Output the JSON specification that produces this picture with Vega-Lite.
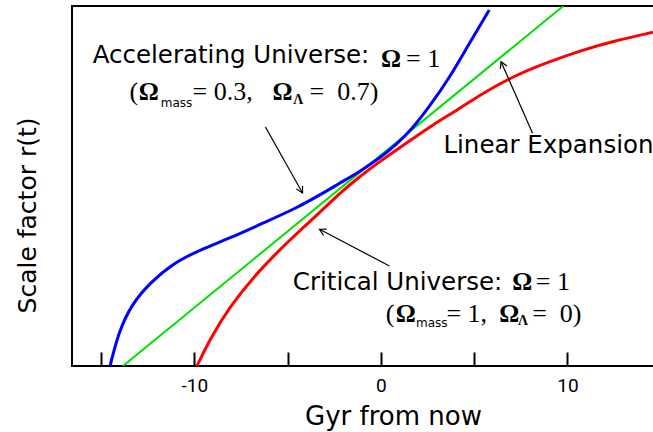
{
  "$schema": "https://vega.github.io/schema/vega-lite/v6.json",
  "width": 582,
  "height": 360,
  "autosize": "none",
  "padding": {"left": 72, "top": 6, "right": 0, "bottom": 66},
  "background": "white",
  "config": {
    "view": {"stroke": "black", "strokeWidth": 2},
    "axis": {"titleFont": "DejaVu Sans", "titleFontWeight": "normal", "labelColor": "black", "titleColor": "black"}
  },
  "datasets": {
    "curves": [
      {"series": "Linear", "t": -13.83, "r": 0},
      {"series": "Linear", "t": 9.78, "r": 1.714},
      {"series": "Accelerating", "t": -14.52, "r": 0},
      {"series": "Accelerating", "t": -14.05, "r": 0.165},
      {"series": "Accelerating", "t": -13.35, "r": 0.295},
      {"series": "Accelerating", "t": -12.40, "r": 0.394},
      {"series": "Accelerating", "t": -11.15, "r": 0.489},
      {"series": "Accelerating", "t": -9.72, "r": 0.552},
      {"series": "Accelerating", "t": -8.11, "r": 0.608},
      {"series": "Accelerating", "t": -6.33, "r": 0.680},
      {"series": "Accelerating", "t": -4.54, "r": 0.751},
      {"series": "Accelerating", "t": -3.12, "r": 0.822},
      {"series": "Accelerating", "t": -2.22, "r": 0.870},
      {"series": "Accelerating", "t": -1.15, "r": 0.925},
      {"series": "Accelerating", "t": -0.08, "r": 0.989},
      {"series": "Accelerating", "t": 0.81, "r": 1.052},
      {"series": "Accelerating", "t": 1.70, "r": 1.132},
      {"series": "Accelerating", "t": 2.60, "r": 1.235},
      {"series": "Accelerating", "t": 3.67, "r": 1.371},
      {"series": "Accelerating", "t": 4.74, "r": 1.537},
      {"series": "Accelerating", "t": 5.81, "r": 1.695},
      {"series": "Critical", "t": -9.86, "r": 0},
      {"series": "Critical", "t": -9.19, "r": 0.124},
      {"series": "Critical", "t": -8.11, "r": 0.282},
      {"series": "Critical", "t": -6.68, "r": 0.441},
      {"series": "Critical", "t": -4.90, "r": 0.600},
      {"series": "Critical", "t": -3.12, "r": 0.743},
      {"series": "Critical", "t": -2.22, "r": 0.822},
      {"series": "Critical", "t": -1.15, "r": 0.901},
      {"series": "Critical", "t": -0.08, "r": 0.973},
      {"series": "Critical", "t": 1.35, "r": 1.060},
      {"series": "Critical", "t": 2.77, "r": 1.148},
      {"series": "Critical", "t": 4.10, "r": 1.219},
      {"series": "Critical", "t": 5.45, "r": 1.299},
      {"series": "Critical", "t": 7.24, "r": 1.386},
      {"series": "Critical", "t": 9.03, "r": 1.449},
      {"series": "Critical", "t": 10.81, "r": 1.505},
      {"series": "Critical", "t": 12.60, "r": 1.549},
      {"series": "Critical", "t": 14.58, "r": 1.589}
    ],
    "arrows": [
      {"name": "acc", "t": -6.19, "r": 1.138, "t2": -4.20, "r2": 0.824},
      {"name": "crit", "t": 0.46, "r": 0.476, "t2": -3.29, "r2": 0.651},
      {"name": "lin", "t": 8.13, "r": 1.108, "t2": 6.44, "r2": 1.449}
    ],
    "sansText": [
      {"text": "Accelerating Universe:", "t": -15.45, "r": 1.441},
      {"text": "Critical Universe:", "t": -4.72, "r": 0.362},
      {"text": "Linear Expansion", "t": 3.35, "r": 1.013}
    ],
    "omegaText": [
      {"text": "Ω", "t": 0.01, "r": 1.425},
      {"text": "Ω", "t": -12.98, "r": 1.267},
      {"text": "Ω", "t": -5.81, "r": 1.267},
      {"text": "Ω", "t": 7.04, "r": 0.362},
      {"text": "Ω", "t": 0.80, "r": 0.211},
      {"text": "Ω", "t": 6.35, "r": 0.211}
    ],
    "serifText": [
      {"text": "= 1", "t": 1.35, "r": 1.425},
      {"text": "(", "t": -13.48, "r": 1.267},
      {"text": "= 0.3,", "t": -10.10, "r": 1.267},
      {"text": "=\u00a0\u00a00.7)", "t": -3.83, "r": 1.267},
      {"text": "= 1", "t": 8.30, "r": 0.362},
      {"text": "(", "t": 0.26, "r": 0.211},
      {"text": "= 1,", "t": 3.51, "r": 0.211},
      {"text": "=\u00a0\u00a00)", "t": 8.11, "r": 0.211}
    ],
    "subText": [
      {"text": "mass", "t": -11.80, "r": 1.233},
      {"text": "mass", "t": 1.88, "r": 0.186}
    ],
    "lambdaText": [
      {"text": "Λ", "t": -4.70, "r": 1.248},
      {"text": "Λ", "t": 7.35, "r": 0.195}
    ]
  },
  "layer": [
    {
      "data": {"name": "curves"},
      "transform": [{"filter": "datum.series === 'Linear'"}],
      "mark": {"type": "line", "color": "#00e000", "strokeWidth": 2, "clip": true},
      "encoding": {
        "x": {"field": "t", "type": "quantitative", "scale": {"domain": [-16.56, 14.64], "nice": false, "zero": false},
          "axis": {"values": [-15, -10, -5, 0, 5, 10], "domain": false, "grid": false, "tickSize": -14, "tickWidth": 2, "tickColor": "black",
            "labelExpr": "datum.value % 10 === 0 ? (datum.value < 0 ? '-' : '') + abs(datum.value) : ''",
            "labelFont": "Roboto", "labelFontSize": 19, "labelPadding": 24, "labelBaseline": "top",
            "title": "Gyr from now", "titleFontSize": 26, "titleX": 321, "titleY": 58, "titleBaseline": "alphabetic", "titleAlign": "center", "titleAnchor": null}},
        "y": {"field": "r", "type": "quantitative", "scale": {"domain": [0, 1.714], "nice": false, "zero": false},
          "axis": {"domain": false, "grid": false, "ticks": false, "labels": false,
            "title": "Scale factor r(t)", "titleFontSize": 25, "titleX": -45, "titleY": 209, "titleAngle": 270, "titleAlign": "center", "titleBaseline": "middle", "titleAnchor": null}}
      }
    },
    {
      "data": {"name": "curves"},
      "transform": [{"filter": "datum.series === 'Accelerating'"}],
      "mark": {"type": "line", "color": "#0000ff", "strokeWidth": 3, "interpolate": "basis", "clip": true},
      "encoding": {"x": {"field": "t", "type": "quantitative"}, "y": {"field": "r", "type": "quantitative"}}
    },
    {
      "data": {"name": "curves"},
      "transform": [{"filter": "datum.series === 'Critical'"}],
      "mark": {"type": "line", "color": "#ff0000", "strokeWidth": 3, "interpolate": "basis", "clip": true},
      "encoding": {"x": {"field": "t", "type": "quantitative"}, "y": {"field": "r", "type": "quantitative"}}
    },
    {
      "data": {"name": "arrows"},
      "mark": {"type": "rule", "color": "black", "strokeWidth": 1.2},
      "encoding": {
        "x": {"field": "t", "type": "quantitative"},
        "y": {"field": "r", "type": "quantitative"},
        "x2": {"field": "t2"},
        "y2": {"field": "r2"}
      }
    },
    {
      "data": {"name": "arrows"},
      "transform": [{"filter": "datum.name === 'acc'"}],
      "mark": {"type": "point", "shape": "M-1,1.8L0,0L1,1.8", "filled": false, "stroke": "black", "strokeWidth": 1.2, "size": 50, "angle": 150.7, "opacity": 1},
      "encoding": {"x": {"field": "t2", "type": "quantitative"}, "y": {"field": "r2", "type": "quantitative"}}
    },
    {
      "data": {"name": "arrows"},
      "transform": [{"filter": "datum.name === 'crit'"}],
      "mark": {"type": "point", "shape": "M-1,1.8L0,0L1,1.8", "filled": false, "stroke": "black", "strokeWidth": 1.2, "size": 50, "angle": 297.6, "opacity": 1},
      "encoding": {"x": {"field": "t2", "type": "quantitative"}, "y": {"field": "r2", "type": "quantitative"}}
    },
    {
      "data": {"name": "arrows"},
      "transform": [{"filter": "datum.name === 'lin'"}],
      "mark": {"type": "point", "shape": "M-1,1.8L0,0L1,1.8", "filled": false, "stroke": "black", "strokeWidth": 1.2, "size": 50, "angle": 336.2, "opacity": 1},
      "encoding": {"x": {"field": "t2", "type": "quantitative"}, "y": {"field": "r2", "type": "quantitative"}}
    },
    {
      "data": {"name": "sansText"},
      "mark": {"type": "text", "font": "DejaVu Sans", "fontSize": 24.5, "align": "left", "baseline": "alphabetic", "color": "black"},
      "encoding": {"x": {"field": "t", "type": "quantitative"}, "y": {"field": "r", "type": "quantitative"}, "text": {"field": "text"}}
    },
    {
      "data": {"name": "omegaText"},
      "mark": {"type": "text", "font": "Liberation Serif", "fontSize": 25, "fontWeight": "bold", "align": "left", "baseline": "alphabetic", "color": "black"},
      "encoding": {"x": {"field": "t", "type": "quantitative"}, "y": {"field": "r", "type": "quantitative"}, "text": {"field": "text"}}
    },
    {
      "data": {"name": "serifText"},
      "mark": {"type": "text", "font": "Liberation Serif", "fontSize": 26, "align": "left", "baseline": "alphabetic", "color": "black"},
      "encoding": {"x": {"field": "t", "type": "quantitative"}, "y": {"field": "r", "type": "quantitative"}, "text": {"field": "text"}}
    },
    {
      "data": {"name": "subText"},
      "mark": {"type": "text", "font": "DejaVu Sans", "fontSize": 12, "align": "left", "baseline": "alphabetic", "color": "black"},
      "encoding": {"x": {"field": "t", "type": "quantitative"}, "y": {"field": "r", "type": "quantitative"}, "text": {"field": "text"}}
    },
    {
      "data": {"name": "lambdaText"},
      "mark": {"type": "text", "font": "Liberation Serif", "fontSize": 14, "fontWeight": "bold", "align": "left", "baseline": "alphabetic", "color": "black"},
      "encoding": {"x": {"field": "t", "type": "quantitative"}, "y": {"field": "r", "type": "quantitative"}, "text": {"field": "text"}}
    }
  ]
}
